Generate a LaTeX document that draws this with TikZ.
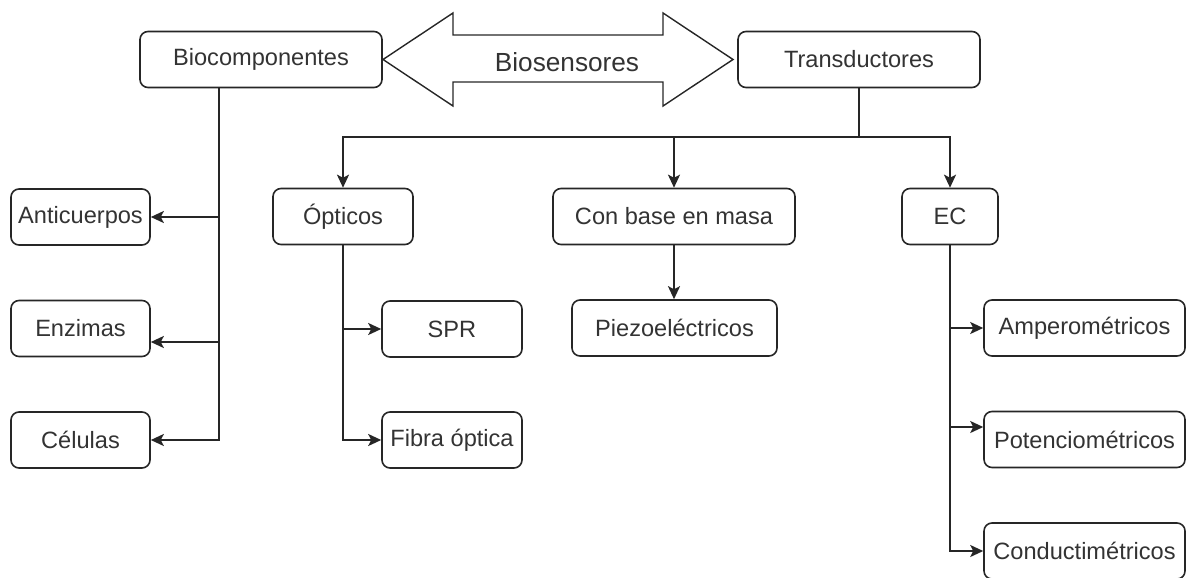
\documentclass[tikz,border=0pt]{standalone}
\usepackage{fontspec}
\setmainfont{Liberation Sans}
\usetikzlibrary{arrows.meta}

\begin{document}
\begin{tikzpicture}[x=0.5pt, y=-0.5pt,
	every node/.style={font=\fontsize{11.8}{14}\selectfont, text=black!80},
	box/.style={draw=black!85, line width=0.8pt, rounded corners=4pt, minimum height=28pt, inner sep=2pt},
	link/.style={line width=1pt, black!85},
	tip/.style={link, -{Stealth[length=6.5pt, width=6pt, inset=1.5pt]}}]
	\useasboundingbox (0,0) rectangle (1186,577);
	% top row
	\node[box, minimum width=121pt] (bio) at (261,59.5) {Biocomponentes};
	\node[box, minimum width=121pt] (trans) at (859,59.5) {Transductores};
	\draw[line width=0.7pt, black!85, line join=miter] (383,59.5) -- (453,13) -- (453,35) -- (663,35) -- (663,13) -- (733,59.5) -- (663,106) -- (663,82) -- (453,82) -- (453,106) -- cycle;
	\node[font=\fontsize{13.1}{15}\selectfont] (biosens) at (567,62) {Biosensores};
	% biocomponentes
	\node[box, minimum width=69.5pt] (anti) at (80.5,217) {Anticuerpos};
	\node[box, minimum width=69.5pt] (enz) at (80.5,328.5) {Enzimas};
	\node[box, minimum width=69.5pt] (cel) at (80.5,440) {Células};
	% transductores
	\node[box, minimum width=70pt] (opt) at (343,216.5) {Ópticos};
	\node[box, minimum width=121pt] (masa) at (674,216.5) {Con base en masa};
	\node[box, minimum width=48pt] (ec) at (950,216.5) {EC};
	\node[box, minimum width=70pt] (spr) at (452,329) {SPR};
	\node[box, minimum width=70pt] (fibra) at (452,440) {Fibra óptica};
	\node[box, minimum width=102.5pt] (piezo) at (674.5,328) {Piezoeléctricos};
	\node[box, minimum width=100.5pt] (amp) at (1084.5,328) {Amperométricos};
	\node[box, minimum width=100.5pt] (pot) at (1084.5,439.5) {Potenciométricos};
	\node[box, minimum width=100.5pt] (cond) at (1084.5,551) {Conductimétricos};

	\coordinate (bioT) at ([xshift=-21pt]bio.south);
	\coordinate (enzIn) at ([yshift=-6.75pt]enz.east);
	\coordinate (potIn) at ([yshift=6.25pt]pot.west);
	\coordinate (split) at (859,137);

	\draw[tip] (bioT) |- (cel.east);
	\draw[tip] (bioT |- anti.east) -- (anti.east);
	\draw[tip] (bioT |- enzIn) -- (enzIn);

	\draw[link] (trans.south) -- (split);
	\draw[tip] (split) -| (opt.north);
	\draw[tip] (split) -| (masa.north);
	\draw[tip] (split) -| (ec.north);

	\draw[tip] (opt.south) |- (fibra.west);
	\draw[tip] (opt.south |- spr.west) -- (spr.west);
	\draw[tip] (masa.south) -- (masa.south |- piezo.north);

	\draw[tip] (ec.south) |- (cond.west);
	\draw[tip] (ec.south |- amp.west) -- (amp.west);
	\draw[tip] (ec.south |- potIn) -- (potIn);
\end{tikzpicture}
\end{document}
